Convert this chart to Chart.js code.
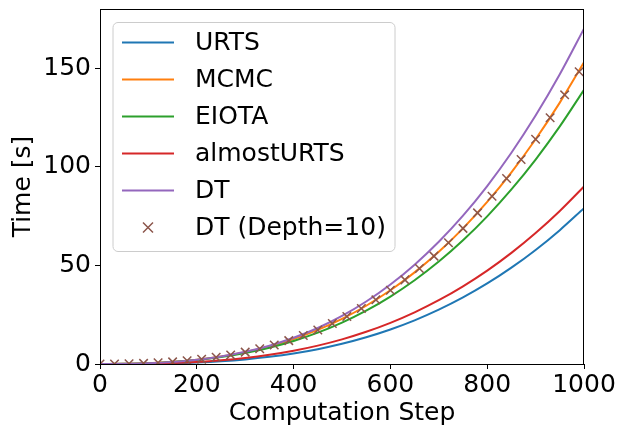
<!DOCTYPE html>
<html>
<head>
<meta charset="utf-8">
<script src="https://cdn.jsdelivr.net/npm/chart.js@4"></script>
<style>
  html, body { margin: 0; padding: 0; background: #fff; }
  #wrap { width: 617px; height: 428px; }
</style>
</head>
<body>
<div id="wrap"><canvas id="chart" width="617" height="428"></canvas></div>
<script>
// Computation steps for the line series
const steps = [0, 50, 100, 150, 200, 250, 300, 350, 400, 450, 500, 550, 600, 650, 700, 750, 800, 850, 900, 950, 1000];

const urts       = [0, 0.02, 0.11, 0.32, 0.73, 1.38, 2.32, 3.63, 5.34, 7.53, 10.25, 13.55, 17.5, 22.14, 27.54, 33.75, 40.83, 48.84, 57.83, 67.87, 79];
const mcmc       = [0, 0.09, 0.42, 1.09, 2.18, 3.80, 6.02, 8.95, 12.67, 17.28, 22.88, 29.54, 37.37, 46.45, 56.89, 68.77, 82.18, 97.21, 113.97, 132.53, 153];
const eiota      = [0, 0.09, 0.40, 1.02, 2.04, 3.53, 5.58, 8.27, 11.68, 15.89, 21.0, 27.07, 34.2, 42.46, 51.94, 62.72, 74.88, 88.5, 103.68, 120.48, 139];
const almostUrts = [0, 0.04, 0.18, 0.50, 1.04, 1.88, 3.06, 4.66, 6.72, 9.32, 12.5, 16.34, 20.88, 26.2, 32.34, 39.38, 47.36, 56.36, 66.42, 77.62, 90];
const dt         = [0, 0.08, 0.40, 1.05, 2.16, 3.83, 6.17, 9.28, 13.28, 18.27, 24.38, 31.68, 40.32, 50.38, 61.99, 75.23, 90.24, 107.11, 125.95, 146.88, 170];

// DT (Depth=10) markers, every 30 steps
const depthSteps = [0, 30, 60, 90, 120, 150, 180, 210, 240, 270, 300, 330, 360, 390, 420, 450, 480, 510, 540, 570, 600, 630, 660, 690, 720, 750, 780, 810, 840, 870, 900, 930, 960, 990];
const dtDepth10  = [0, 0.03, 0.13, 0.33, 0.64, 1.09, 1.69, 2.46, 3.43, 4.61, 6.02, 7.69, 9.63, 11.86, 14.41, 17.28, 20.51, 24.12, 28.12, 32.53, 37.37, 42.66, 48.43, 54.69, 61.46, 68.77, 76.62, 85.05, 94.07, 103.7, 113.97, 124.89, 136.47, 148.2];

const xTicks = [0, 200, 400, 600, 800, 1000];
const yTicks = [0, 50, 100, 150];

const FONT = "'DejaVu Sans', 'Liberation Sans', sans-serif";
const FS = 25;

function pts(xs, ys) {
    return xs.map((x, i) => ({ x: x, y: ys[i] }));
}

function lineSet(label, ys, color, order) {
    return {
        label: label,
        data: pts(steps, ys),
        borderColor: color,
        backgroundColor: color,
        borderWidth: 2,
        pointRadius: 0,
        tension: 0.4,
        cubicInterpolationMode: 'monotone',
        order: order
    };
}

// Frame round the plot area, like matplotlib spines
const framePlugin = {
    id: 'frame',
    afterDatasetsDraw(chart) {
        const a = chart.chartArea;
        const ctx = chart.ctx;
        ctx.save();
        ctx.strokeStyle = '#000';
        ctx.lineWidth = 1;
        ctx.strokeRect(a.left + 0.5, a.top + 0.5, a.right - a.left - 1, a.bottom - a.top);
        ctx.restore();
    }
};

// Legend box in the upper left of the plot
const legendPlugin = {
    id: 'boxLegend',
    afterDraw(chart) {
        const a = chart.chartArea;
        const ctx = chart.ctx;
        const x0 = a.left + 13, y0 = a.top + 13.5;
        const w = 282, h = 229, r = 5;
        ctx.save();
        ctx.beginPath();
        ctx.moveTo(x0 + r, y0);
        ctx.arcTo(x0 + w, y0, x0 + w, y0 + h, r);
        ctx.arcTo(x0 + w, y0 + h, x0, y0 + h, r);
        ctx.arcTo(x0, y0 + h, x0, y0, r);
        ctx.arcTo(x0, y0, x0 + w, y0, r);
        ctx.closePath();
        ctx.fillStyle = 'rgba(255,255,255,0.8)';
        ctx.fill();
        ctx.strokeStyle = '#cccccc';
        ctx.lineWidth = 1;
        ctx.stroke();

        ctx.font = FS + 'px ' + FONT;
        ctx.textBaseline = 'middle';
        chart.data.datasets.forEach((ds, i) => {
            const cy = y0 + 20 + i * 37;
            ctx.strokeStyle = ds.borderColor;
            if (ds.showLine === false) {
                ctx.lineWidth = 1.5;
                const cx = x0 + 35, s = 5;
                ctx.beginPath();
                ctx.moveTo(cx - s, cy - s); ctx.lineTo(cx + s, cy + s);
                ctx.moveTo(cx - s, cy + s); ctx.lineTo(cx + s, cy - s);
                ctx.stroke();
            } else {
                ctx.lineWidth = 2;
                ctx.beginPath();
                ctx.moveTo(x0 + 9, cy);
                ctx.lineTo(x0 + 61, cy);
                ctx.stroke();
            }
            ctx.fillStyle = '#000';
            ctx.fillText(ds.label, x0 + 82, cy + 1);
        });
        ctx.restore();
    }
};

new Chart(document.getElementById('chart'), {
    type: 'line',
    data: {
        datasets: [
            lineSet('URTS', urts, '#1f77b4', 6),
            lineSet('MCMC', mcmc, '#ff7f0e', 5),
            lineSet('EIOTA', eiota, '#2ca02c', 4),
            lineSet('almostURTS', almostUrts, '#d62728', 3),
            lineSet('DT', dt, '#9467bd', 2),
            {
                label: 'DT (Depth=10)',
                data: pts(depthSteps, dtDepth10),
                showLine: false,
                borderColor: '#8c564b',
                backgroundColor: '#8c564b',
                pointStyle: 'crossRot',
                pointRadius: 6,
                pointBorderWidth: 1.5,
                order: 1
            }
        ]
    },
    options: {
        responsive: false,
        animation: false,
        layout: { padding: { top: 9, right: 33, left: 0, bottom: 0 } },
        plugins: {
            legend: { display: false },
            tooltip: { enabled: false }
        },
        scales: {
            x: {
                type: 'linear',
                min: 0,
                max: 1000,
                afterBuildTicks: (s) => { s.ticks = xTicks.map(v => ({ value: v })); },
                afterFit: (s) => { s.height = 64; s.paddingLeft = 0; s.paddingRight = 0; },
                grid: { drawOnChartArea: false, drawTicks: true, tickLength: 5, color: '#000' },
                border: { display: false },
                ticks: { color: '#000', font: { family: FONT, size: FS }, padding: 1, maxRotation: 0, callback: (v) => String(v) },
                title: { display: true, text: 'Computation Step', color: '#000', font: { family: FONT, size: FS }, padding: { top: -5, bottom: 0 } }
            },
            y: {
                min: 0,
                max: 180,
                afterBuildTicks: (s) => { s.ticks = yTicks.map(v => ({ value: v })); },
                afterFit: (s) => { s.width = 100; s.paddingTop = 0; s.paddingBottom = 0; },
                grid: { drawOnChartArea: false, drawTicks: true, tickLength: 5, color: '#000' },
                border: { display: false },
                ticks: { color: '#000', font: { family: FONT, size: FS }, padding: 4, callback: (v) => String(v) },
                title: { display: true, text: 'Time [s]', color: '#000', font: { family: FONT, size: FS }, padding: { top: 8, bottom: 0 } }
            }
        }
    },
    plugins: [framePlugin, legendPlugin]
});
</script>
</body>
</html>
